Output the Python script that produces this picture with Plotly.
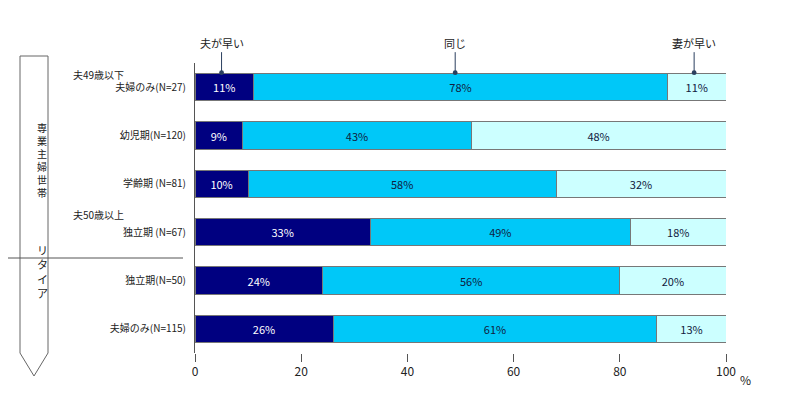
import plotly.graph_objects as go

categories = ["夫婦のみ(N=27)", "幼児期(N=120)", "学齢期 (N=81)", "独立期 (N=67)", "独立期(N=50)", "夫婦のみ(N=115)"]
husband_first = [11, 9, 10, 33, 24, 26]
same = [78, 43, 58, 49, 56, 61]
wife_first = [11, 48, 32, 18, 20, 13]
x_ticks = [0, 20, 40, 60, 80, 100]

FONT = "Noto Sans CJK JP"
fig = go.Figure()
series = [(husband_first, "#000080", "white"), (same, "#00c8f8", "#102040"), (wife_first, "#ccffff", "#102040")]
for vals, col, tc in series:
    fig.add_trace(go.Bar(
        y=categories, x=vals, orientation="h", marker=dict(color=col, line=dict(color="#777", width=1)),
        text=[f"{v}%" for v in vals], textposition="inside", insidetextanchor="middle",
        textfont=dict(color=tc, size=11, family=FONT), width=0.57, showlegend=False, hoverinfo="skip"))

fig.update_layout(
    barmode="stack", width=800, height=400, plot_bgcolor="white", paper_bgcolor="white",
    margin=dict(l=187, r=82, t=55, b=55), font=dict(family=FONT, size=10, color="#222"),
    xaxis=dict(range=[0, 100], tickvals=x_ticks, ticks="outside", ticklen=8, tickcolor="#555",
               showgrid=False, zeroline=False, showline=False, tickfont=dict(size=12)),
    yaxis=dict(autorange="reversed", showline=True, linecolor="#555", linewidth=1, ticks="",
               ticklabelstandoff=6, tickfont=dict(size=10)),
)

def px(x): return (x - 187) / 531
def py(y): return (345 - y) / 290

for xv, t in [(5, "夫が早い"), (49, "同じ"), (94, "妻が早い")]:
    fig.add_annotation(x=xv, y=-0.3, xref="x", yref="y", text=t, showarrow=True, arrowhead=6,
                       arrowsize=1.2, arrowwidth=1, ax=0, ay=-30, font=dict(size=11))
for txt, yy in [("夫49歳以下", 67), ("夫50歳以上", 207)]:
    fig.add_annotation(x=px(63), y=py(yy), xref="paper", yref="paper", text=txt,
                       showarrow=False, xanchor="left", yanchor="middle", font=dict(size=10))
fig.add_annotation(x=px(745), y=py(382), xref="paper", yref="paper", text="%", showarrow=False,
                   font=dict(size=12))
fig.add_shape(type="path", xref="paper", yref="paper",
              path=f"M {px(12)},{py(48)} L {px(40)},{py(48)} L {px(40)},{py(345)} L {px(26)},{py(368)} L {px(12)},{py(345)} Z",
              line=dict(color="#666", width=1))
fig.add_shape(type="line", xref="paper", yref="paper", x0=px(0), x1=px(175), y0=py(250), y1=py(250),
              line=dict(color="#555", width=1))
fig.add_annotation(x=px(27), y=py(110), xref="paper", yref="paper", text="<br>".join("専業主婦世帯"),
                   showarrow=False, font=dict(size=10))
fig.add_annotation(x=px(27), y=py(295), xref="paper", yref="paper", text="<br>".join("リタイア"),
                   showarrow=False, font=dict(size=11))
fig.write_html("out.html")
